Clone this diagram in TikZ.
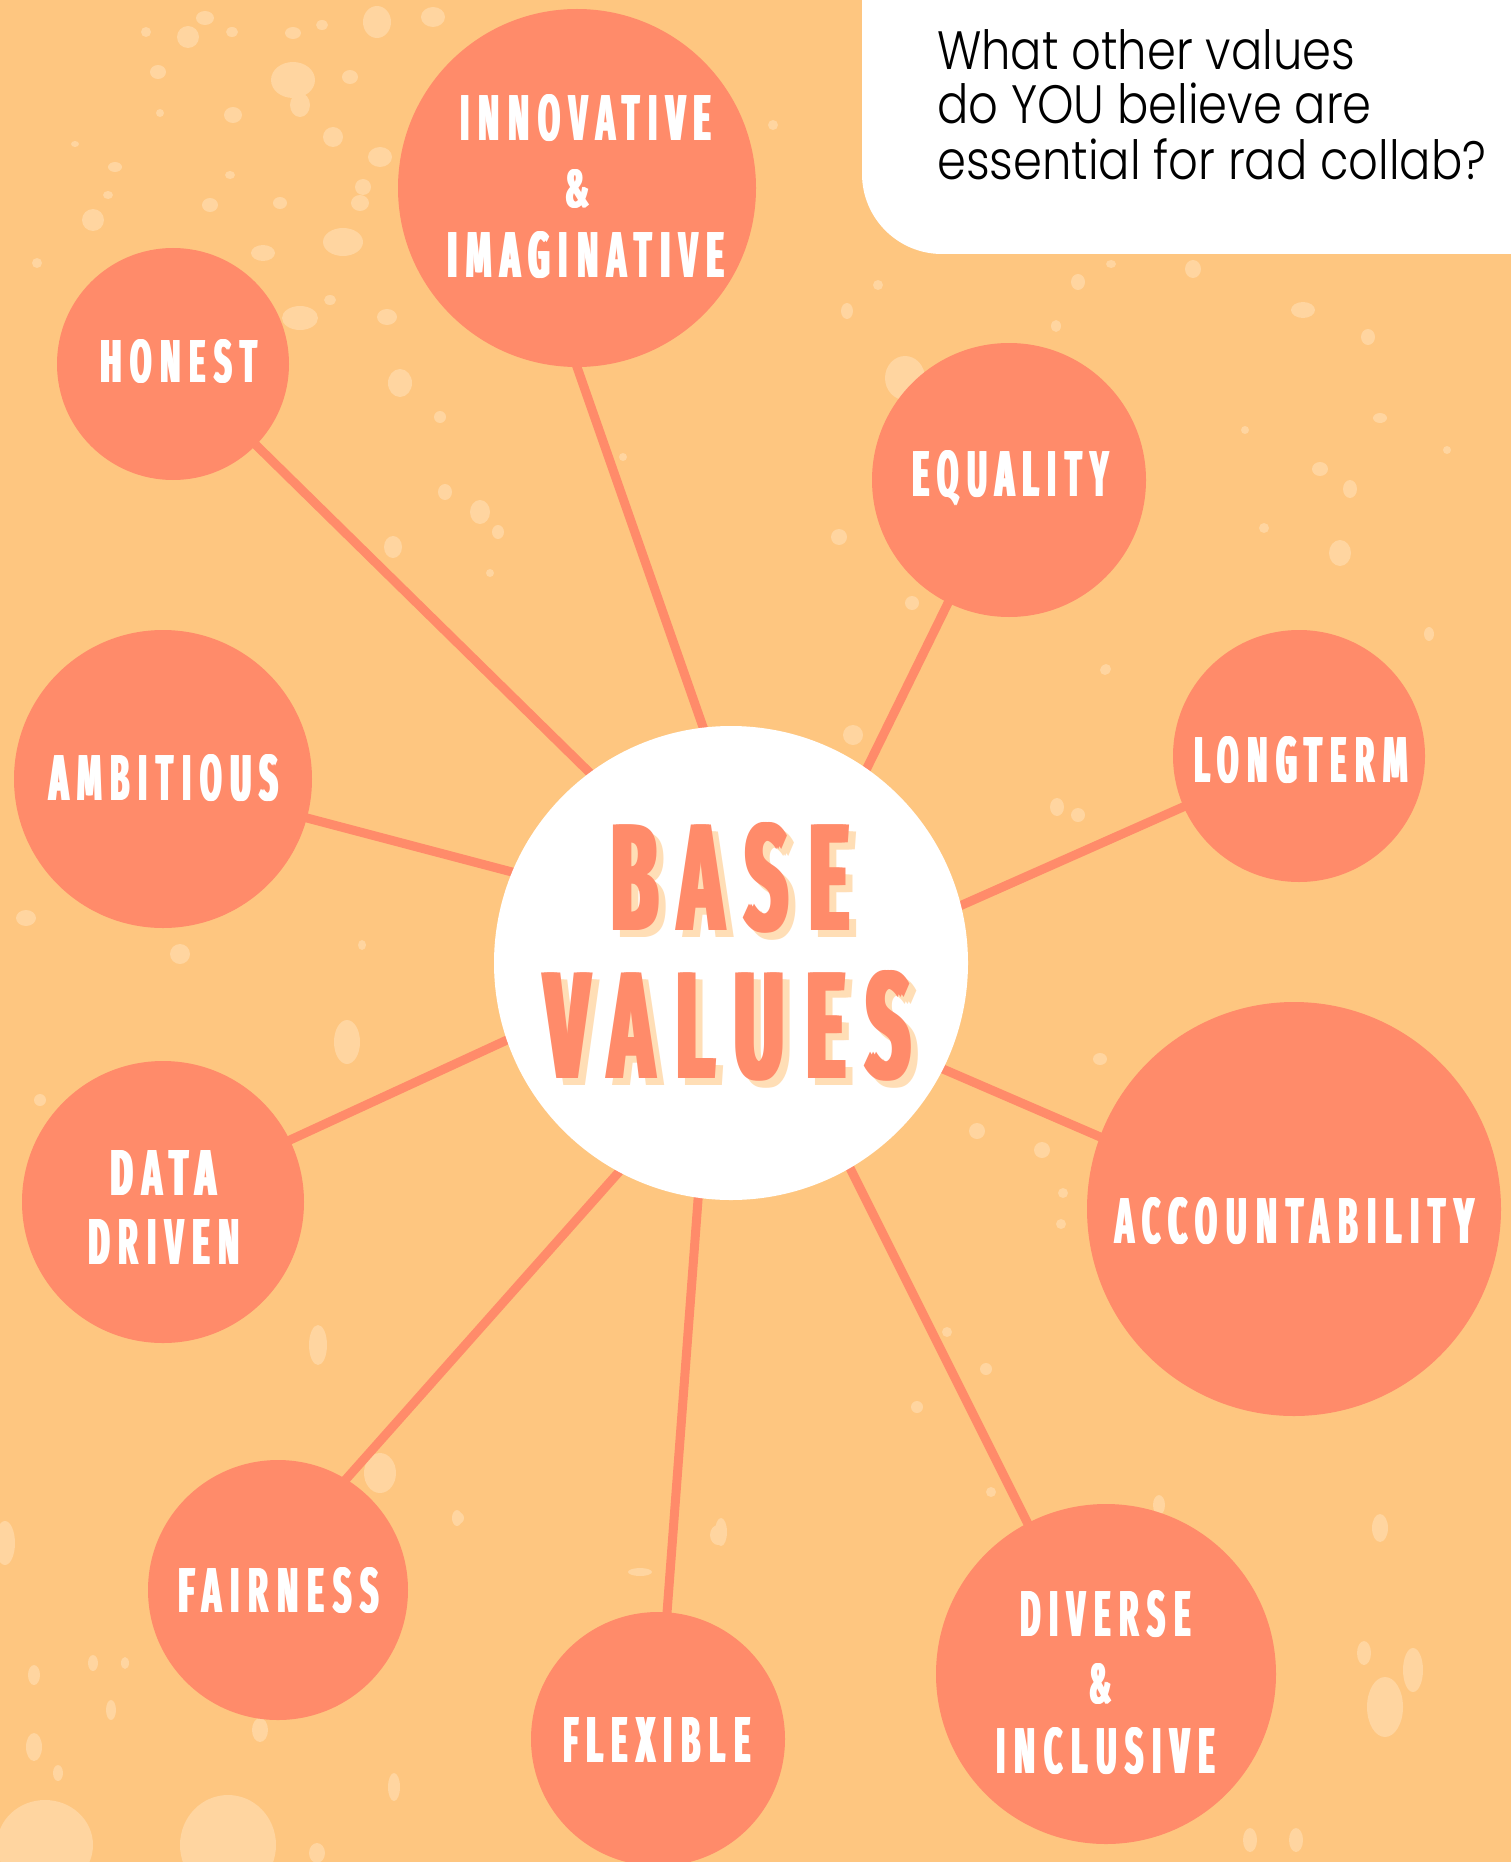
\documentclass[tikz,border=0pt]{standalone}
\usepackage{fontspec}
\usepackage{graphicx}
\usetikzlibrary{calc}
\IfFontExistsTF{Poppins Light}
  {\newfontfamily\qfont{Poppins Light}[FakeStretch=0.86]}
  {\newfontfamily\qfont{Poppins}[FakeStretch=0.85]}
\newfontfamily\labfont{Fira Sans}[LetterSpace=28]
\definecolor{bg}{RGB}{254,198,128}
\definecolor{spk}{RGB}{255,213,160}
\definecolor{coral}{RGB}{255,139,106}
\definecolor{shade}{RGB}{255,222,182}
\newcommand\stemthick[1]{\rlap{#1}\hspace{0.035em}\rlap{#1}\hspace{0.035em}#1}
\newcommand\lab[3]{\resizebox{#1pt}{#2pt}{\labfont\bfseries\stemthick{#3}}}
\newcommand\shadowed[3]{\rlap{\hspace{7pt}\raisebox{-7pt}{\color{shade}\lab{#1}{#2}{#3}}}\lab{#1}{#2}{#3}}
\tikzset{
  bubble/.style={circle, fill=coral, draw=none, inner sep=0pt},
  link/.style={draw=coral, line width=9pt},
  txt/.style={inner sep=0pt, text=white, anchor=center},
  big/.style={inner sep=0pt, text=coral, anchor=center},
  qtext/.style={inner sep=0pt, anchor=base west, text=black, font=\qfont\fontsize{54}{60}\selectfont}
}
\begin{document}
\begin{tikzpicture}[x=1pt, y=-1pt]
\useasboundingbox (0,0) rectangle (1511,1862);
\fill[bg] (0,0) rectangle (1511,1862);
% speckles
\foreach \x/\y/\a/\b in {
205/18/9/7, 188/37/11/11, 232/32/6/5, 293/33/8/6, 322/25/6/5, 377/22/14/16, 433/17/12/10,
293/80/22/18, 300/105/10/12, 158/72/8/7, 350/77/8/7, 333/137/10/10, 380/157/12/10, 363/187/8/8,
360/203/9/8, 343/242/20/14, 93/220/11/11, 280/203/7/6, 210/205/8/7, 233/115/9/8, 263/253/12/8,
300/318/18/12, 387/317/10/8, 400/383/12/14, 37/263/5/5, 115/167/7/5, 108/195/5/4, 146/32/5/5,
160/113/4/4, 75/144/4/3, 330/300/6/5, 230/175/5/4, 440/417/6/6, 445/492/7/8, 480/512/10/12,
393/547/9/11, 498/532/6/7, 490/573/4/4, 623/457/4/4,
1193/269/8/9, 1078/282/7/8, 1303/310/12/8, 1368/337/7/8, 1320/469/8/7, 1350/489/7/9,
1340/553/11/13, 1264/528/5/5, 1245/430/4/4, 1447/450/4/4, 1056/326/5/6, 1106/669/5/5,
1429/634/5/7, 1111/264/5/4, 1380/418/7/5, 905/378/20/22, 847/311/6/8, 878/285/5/5,
839/537/8/8, 773/125/5/5, 912/603/7/7, 853/735/10/10, 1057/807/7/9, 1078/815/7/7,
1105/670/5/5, 977/1131/8/8, 1042/1150/8/8, 1063/1193/5/5, 1061/1224/5/5, 1100/1059/7/6,
947/1332/5/5, 986/1369/6/6, 917/1407/6/6, 991/1492/5/5,
347/1042/13/22, 362/945/4/5, 380/1473/16/20, 318/1345/9/20, 458/1518/6/6, 718/1535/8/10,
640/1572/12/4, 180/954/10/10, 26/918/10/8, 40/1100/6/6,
45/1845/48/45, 228/1845/48/50, 5/1543/10/22, 1380/1528/8/14, 1413/1670/10/22, 1385/1707/18/30,
1364/1653/7/12, 1250/1840/7/12, 1296/1840/7/12, 1159/1505/6/10, 721/1532/6/14, 457/1518/5/8,
111/1710/5/10, 34/1747/8/14, 34/1675/6/10, 93/1663/5/8, 125/1663/4/6, 58/1773/5/8,
394/1787/6/14, 317/1853/8/10, 260/1730/8/12}
  \fill[spk] (\x,\y) ellipse [x radius=\a, y radius=\b];
% question box
\fill[white] (1511,0) -- (862,0) -- (862,174) arc[start angle=180, end angle=90, radius=80] -- (1511,254) -- cycle;
\node[qtext] (q1) at (937,70) {What other values};
\node[qtext] (q2) at (937,124) {do YOU believe are};
\node[qtext] (q3) at (937,180) {essential for rad collab?};
% connector end points
\coordinate (honA) at (258,447);   \coordinate (honB) at (590,773);
\coordinate (innA) at (577,367);   \coordinate (innB) at (703,727);
\coordinate (equA) at (948,603);   \coordinate (equB) at (867,768);
\coordinate (lonA) at (1183,807);  \coordinate (lonB) at (962,905);
\coordinate (ambA) at (307,818);   \coordinate (ambB) at (512,872);
\coordinate (datA) at (290,1140);  \coordinate (datB) at (507,1040);
\coordinate (accA) at (1098,1136); \coordinate (accB) at (943,1069);
\coordinate (divA) at (1026,1520); \coordinate (divB) at (851,1170);
\coordinate (faiA) at (348,1477);  \coordinate (faiB) at (618,1173);
\coordinate (flxA) at (667,1613);  \coordinate (flxB) at (698,1200);
\foreach \p in {hon,inn,equ,lon,amb,dat,acc,div,fai,flx}
  \draw[link] ($(\p A)!-14pt!(\p B)$) -- ($(\p B)!-14pt!(\p A)$);
% circles
\node[circle, fill=white, draw=none, inner sep=0pt, minimum size=474pt] (base) at (731,963) {};
\node[bubble, minimum size=232pt] (honest) at (173,364) {};
\node[bubble, minimum size=358pt] (innov) at (577,188) {};
\node[bubble, minimum size=274pt] (equality) at (1009,480) {};
\node[bubble, minimum size=252pt] (longterm) at (1299,756) {};
\node[bubble, minimum size=298pt] (ambitious) at (163,779) {};
\node[bubble, minimum size=414pt] (account) at (1294,1209) {};
\node[bubble, minimum size=282pt] (data) at (163,1202) {};
\node[bubble, minimum size=260pt] (fairness) at (278,1590) {};
\node[bubble, minimum size=254pt] (flexible) at (658,1739) {};
\node[bubble, minimum size=340pt] (diverse) at (1106,1674) {};
% labels
\node[txt] (tHonest) at (179,361.5) {\lab{158}{43}{HONEST}};
\node[txt] (tInnov1) at (585.5,118) {\lab{253}{46}{INNOVATIVE}};
\node[txt] (tInnov2) at (577,189) {\lab{26}{38}{\&}};
\node[txt] (tInnov3) at (586,255) {\lab{278}{46}{IMAGINATIVE}};
\node[txt] (tEqual) at (1011,478) {\lab{198}{46}{EQUALITY}};
\node[txt] (tLong) at (1301,760.5) {\lab{216}{46}{LONGTERM}};
\node[txt] (tAmb) at (164,778.5) {\lab{230}{46}{AMBITIOUS}};
\node[txt] (tData1) at (163.5,1173) {\lab{107}{45}{DATA}};
\node[txt] (tData2) at (164.5,1241.5) {\lab{153}{45}{DRIVEN}};
\node[txt] (tAcc) at (1294.5,1221.5) {\lab{361}{46}{ACCOUNTABILITY}};
\node[txt] (tFair) at (279,1590.5) {\lab{202}{45}{FAIRNESS}};
\node[txt] (tFlex) at (657,1739.5) {\lab{190}{45}{FLEXIBLE}};
\node[txt] (tDiv1) at (1105.5,1614) {\lab{173}{46}{DIVERSE}};
\node[txt] (tDiv2) at (1100,1684) {\lab{24}{40}{\&}};
\node[txt] (tDiv3) at (1105.5,1751) {\lab{221}{46}{INCLUSIVE}};
% central title with shadow
\node[big] (tBase) at (730.5,881) {\shadowed{243}{108}{BASE}};
\node[big] (tValues) at (728,1029) {\shadowed{370}{108}{VALUES}};
\end{tikzpicture}
\end{document}
